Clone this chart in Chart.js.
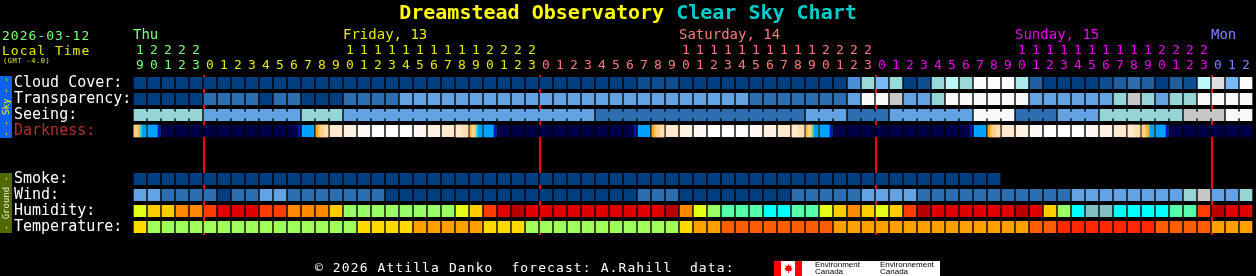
<!DOCTYPE html>
<html>
<head>
<meta charset="utf-8">
<title>Dreamstead Observatory Clear Sky Chart</title>
<script src="https://cdn.jsdelivr.net/npm/chart.js@4.4.1/dist/chart.umd.min.js"></script>
<style>
  html, body { margin: 0; padding: 0; background: #000; }
  #wrap { position: relative; width: 1256px; height: 276px; overflow: hidden;
          font-family: "DejaVu Sans Mono", monospace; }
  #chart-box { position: absolute; left: 0; top: 0; width: 1256px; height: 276px; }
  .txt { position: absolute; white-space: pre; }
  #title { left: 0; top: 0; width: 1256px; text-align: center; font-weight: bold;
           font-size: 20px; line-height: 24px; color: #ffff00; }
  #title span { color: #00cccc; }
  .side { position: absolute; left: 0; width: 12px; display: flex;
          align-items: center; justify-content: center; }
  .side div { writing-mode: vertical-rl; transform: rotate(180deg);
              font-size: 9px; line-height: 12px; white-space: pre; }
  #logo { position: absolute; left: 774px; top: 261px; width: 166px; height: 15px; background: #fff; }
  #logo .red { position: absolute; top: 0; width: 7px; height: 15px; background: #ff0000; }
  #logo .leaf { position: absolute; left: 10px; top: 3px; width: 9px; height: 9px; background: #ff0000;
    clip-path: polygon(50% 0, 62% 25%, 85% 15%, 78% 45%, 100% 45%, 80% 65%, 85% 80%, 55% 75%, 55% 100%,
                       45% 100%, 45% 75%, 15% 80%, 20% 65%, 0 45%, 22% 45%, 15% 15%, 38% 25%); }
  #logo .name { position: absolute; top: 0; font-family: "Liberation Sans", sans-serif;
                font-size: 8px; line-height: 7px; color: #000; white-space: pre; }
</style>
</head>
<body>
<div id="wrap">
  <div id="chart-box"><canvas id="csc-chart"></canvas></div>

  <div class="txt" id="title">Dreamstead Observatory <span>Clear Sky Chart</span></div>
  <div class="txt" style="left:2px; top:28px; font-size:13px; line-height:15px; letter-spacing:1px; color:#80ff80;">2026-03-12</div>
  <div class="txt" style="left:2px; top:43px; font-size:13px; line-height:15px; letter-spacing:1px; color:#e8e800;">Local Time</div>
  <div class="txt" style="left:3px; top:57px; font-size:7px; line-height:8px; letter-spacing:0.5px; color:#e8e800;">(GMT -4.0)</div>

  <div class="side" style="top:76px; height:62px; background:#0f62f0;"><div style="color:#ffff00;">- - Sky - -</div></div>
  <div class="side" style="top:173px; height:60px; background:#506a00;"><div style="color:#f0f0d0;">- Ground -</div></div>

  <div class="txt" style="left:315px; top:260px; font-size:13px; line-height:15px; letter-spacing:1.1px; color:#fff;">© 2026 Attilla Danko  forecast: A.Rahill  data:</div>
  <div id="logo">
    <div class="red" style="left:0;"></div>
    <div class="leaf"></div>
    <div class="red" style="left:21px;"></div>
    <div class="name" style="left:41px;">Environment
Canada</div>
    <div class="name" style="left:106px;">Environnement
Canada</div>
  </div>
</div>

<script>
/* ===============================
   CONFIG
================================= */
const FONT = "'DejaVu Sans Mono', monospace";
const GAP = 1 / 14;             // black gap each side of a cell, in hours
const STEP = (1 - 2 * GAP) / 6; // one 10-minute stripe of a darkness cell

/* ===============================
   AXES / LABELS
================================= */
const ROWS = ["Cloud Cover:", "Transparency:", "Seeing:", "Darkness:", " ", "  ",
              "Smoke:", "Wind:", "Humidity:", "Temperature:"];

const hourLabels = [
  19, 20, 21, 22, 23,
  0, 1, 2, 3, 4, 5, 6, 7, 8, 9, 10, 11, 12, 13, 14, 15, 16, 17, 18, 19, 20, 21, 22, 23,
  0, 1, 2, 3, 4, 5, 6, 7, 8, 9, 10, 11, 12, 13, 14, 15, 16, 17, 18, 19, 20, 21, 22, 23,
  0, 1, 2, 3, 4, 5, 6, 7, 8, 9, 10, 11, 12, 13, 14, 15, 16, 17, 18, 19, 20, 21, 22, 23,
  0, 1, 2
];

const dayNames = ["Thu", "Friday, 13", "Saturday, 14", "Sunday, 15", "Mon"];
const dayNameCols = [0, 15, 39, 63, 77];
const dayStartCols = [0, 5, 29, 53, 77];
const dayColors = ["#80ff80", "#e8e800", "#ff7c7c", "#ee00ee", "#8080ff"];
const midnightCols = [5, 29, 53, 77];

/* ===============================
   SERIES (level codes per hour)
================================= */
const cloudCover = [
  0, 0, 0, 0, 0,
  0, 0, 0, 0, 0, 0, 0, 0, 0, 0, 0, 0, 0, 0, 0, 0, 0, 0, 0, 0, 0, 0, 0, 0,
  0, 0, 0, 0, 0, 0, 0, 1, 1, 1, 0, 0, 0, 0, 0, 0, 0, 0, 0, 0, 0, 0, 4, 7,
  6, 7, 0, 1, 7, 9, 7, 10, 10, 10, 8, 2, 0, 0, 0, 0, 1, 2, 3, 2, 0, 2, 1, 9,
  11, 6, 10
];

const transparency = [
  0, 0, 0, 0, 0,
  1, 1, 1, 1, 0, 1, 1, 0, 0, 0, 1, 1, 1, 1, 2, 2, 2, 2, 2, 2, 2, 2, 2, 2,
  2, 2, 2, 2, 2, 2, 2, 2, 2, 2, 2, 2, 2, 2, 2, 1, 1, 1, 1, 1, 1, 1, 2, 5,
  5, 4, 2, 2, 3, 5, 5, 5, 5, 5, 5, 2, 2, 2, 2, 2, 2, 3, 4, 3, 2, 3, 3, 5,
  5, 5, 5
];

const seeing = [
  3, 3, 3, 3, 3,
  2, 2, 2, 2, 2, 2, 2, 3, 3, 3, 2, 2, 2, 2, 2, 2, 2, 2, 2, 2, 2, 2, 2, 2,
  2, 2, 2, 2, 1, 1, 1, 1, 1, 1, 1, 1, 1, 1, 1, 1, 1, 1, 1, 2, 2, 2, 1, 1,
  1, 2, 2, 2, 2, 2, 2, 5, 5, 5, 1, 1, 1, 2, 2, 2, 3, 3, 3, 3, 3, 3, 4, 4,
  4, 5, 5
];

const darkness = [
  8, 11, 13, 13, 13,
  13, 13, 13, 13, 13, 13, 13, 11, 5, 3, 2, 1, 0, 0, 0, 1, 2, 3, 4, 8, 11, 13, 13, 13,
  13, 13, 13, 13, 13, 13, 13, 11, 5, 3, 2, 1, 0, 0, 0, 1, 2, 3, 4, 9, 11, 13, 13, 13,
  13, 13, 13, 13, 13, 13, 13, 11, 5, 3, 2, 1, 0, 0, 0, 1, 2, 3, 4, 10, 11, 13, 13, 13,
  13, 13, 13
];

// twilight hours, drawn in 10-minute steps
const twilightCols = [0, 1, 11, 13, 23, 24, 25, 35, 37, 47, 48, 49, 59, 61, 71, 72, 73];
const twilightSteps = [
  [5, 5, 6, 8, 11, 11], [11, 11, 11, 11, 11, 12], [13, 13, 13, 13, 13, 12],
  [7, 6, 5, 5, 4, 4], [3, 3, 3, 4, 4, 4], [6, 5, 5, 8, 11, 11],
  [11, 11, 11, 11, 11, 12], [13, 13, 13, 13, 13, 12], [7, 6, 5, 5, 4, 4],
  [3, 3, 3, 4, 4, 4], [6, 5, 5, 9, 11, 11], [11, 11, 11, 11, 11, 12],
  [13, 13, 13, 13, 13, 12], [7, 6, 5, 5, 4, 4], [3, 3, 3, 4, 4, 4],
  [5, 5, 6, 10, 11, 11], [11, 11, 11, 11, 11, 12]
];

const smoke = [
  0, 0, 0, 0, 0,
  0, 0, 0, 0, 0, 0, 0, 0, 0, 0, 0, 0, 0, 0, 0, 0, 0, 0, 0, 0, 0, 0, 0, 0,
  0, 0, 0, 0, 0, 0, 0, 0, 0, 0, 0, 0, 0, 0, 0, 0, 0, 0, 0, 0, 0, 0, 0, 0,
  0, 0, 0, 0, 0, 0, 0, 0, 0
];

const wind = [
  2, 2, 1, 1, 1,
  1, 0, 1, 1, 2, 2, 1, 1, 1, 1, 1, 1, 1, 0, 0, 0, 0, 0, 0, 0, 0, 0, 0, 0,
  0, 0, 0, 0, 0, 0, 0, 1, 1, 1, 0, 0, 0, 0, 0, 0, 0, 0, 1, 1, 1, 1, 1, 2,
  2, 2, 2, 1, 1, 1, 1, 1, 1, 1, 1, 1, 1, 1, 2, 2, 2, 2, 2, 2, 2, 2, 3, 4,
  2, 2, 3
];

const humidity = [
  4, 5, 5, 6, 6,
  7, 8, 8, 8, 7, 7, 6, 6, 6, 5, 3, 3, 3, 3, 3, 3, 3, 3, 4, 5, 7, 8, 9, 8,
  8, 8, 8, 8, 8, 8, 8, 8, 8, 9, 6, 4, 3, 2, 2, 2, 1, 1, 2, 2, 4, 5, 6, 5,
  4, 5, 7, 9, 8, 8, 8, 8, 8, 8, 9, 8, 5, 3, 1, 0, 0, 1, 1, 1, 1, 2, 2, 7,
  9, 8, 8
];

const temperature = [
  1, 0, 0, 0, 0,
  0, 0, 0, 0, 0, 0, 0, 0, 0, 0, 0, 1, 1, 1, 1, 2, 2, 2, 2, 2, 1, 1, 1, 0,
  0, 0, 0, 0, 0, 0, 0, 0, 0, 0, 1, 2, 2, 3, 3, 3, 3, 3, 3, 3, 3, 2, 2, 2,
  2, 2, 2, 2, 2, 2, 2, 2, 2, 2, 2, 3, 3, 4, 4, 4, 4, 4, 4, 4, 3, 3, 3, 3,
  2, 2, 2
];

/* ===============================
   PALETTES
================================= */
const cloudColors = ["#003f7f", "#0f4f8f", "#1f5f9f", "#2c6eb0", "#4a8fd8", "#5f9fdf",
                     "#7ab8f4", "#99d9d9", "#aeeaea", "#bef8f8", "#fbfbfb", "#dedede"];
const skyColors = ["#003f7f", "#2c6eb0", "#63a3e3", "#95d5d5", "#c7c7c7", "#f9f9f9"];
const darknessColors = ["#ffffff", "#fff9f2", "#fff2e2", "#ffead0", "#ffdfb2", "#ffd088",
                        "#ffbb48", "#eca31c", "#48dcb4", "#86c878", "#c6b444", "#00a0ff",
                        "#0016c4", "#000046"];
const humidityColors = ["#80c0c0", "#00ffff", "#55ffaa", "#99ff66", "#e6ff1a", "#ffcc00",
                        "#ff8800", "#ff3c00", "#e00000", "#b80000"];
const temperatureColors = ["#a0ff5a", "#ffd900", "#ffa000", "#ff5e00", "#ff2800"];

/* ===============================
   HELPERS
================================= */
function dayOfCol(col) {
  let d = 0;
  dayStartCols.forEach((start, i) => { if (col >= start) d = i; });
  return d;
}

function cellDataset(row, values, palette) {
  return {
    data: values.map((v, i) => ({ x: [i, i + 1], y: ROWS[row] })),
    backgroundColor: values.map(v => palette[v]),
    borderColor: "#000",
    borderWidth: { left: 1, right: 1, top: 0, bottom: 0 },
    borderSkipped: false,
    barThickness: 12,
    order: 2,
  };
}

function twilightDataset() {
  const data = [];
  const colors = [];
  twilightCols.forEach((col, n) => {
    twilightSteps[n].forEach((lvl, k) => {
      const a = col + GAP + k * STEP;
      data.push({ x: [a, a + STEP], y: ROWS[3] });
      colors.push(darknessColors[lvl]);
    });
  });
  return { data, backgroundColor: colors, borderWidth: 0, barThickness: 12, order: 1 };
}

// seeing cells of equal value are joined across the gap
function seeingLinks() {
  const data = [];
  const colors = [];
  for (let i = 0; i < seeing.length - 1; i++) {
    if (seeing[i] !== seeing[i + 1]) continue;
    data.push({ x: [i + 1 - GAP, i + 1 + GAP], y: ROWS[2] });
    colors.push(skyColors[seeing[i]]);
  }
  return { data, backgroundColor: colors, borderWidth: 0, barThickness: 6, order: 1 };
}

/* ===============================
   CHART
================================= */
new Chart(document.getElementById("csc-chart"), {
  type: "bar",
  data: {
    labels: ROWS,
    datasets: [
      cellDataset(0, cloudCover, cloudColors),
      cellDataset(1, transparency, skyColors),
      cellDataset(2, seeing, skyColors),
      cellDataset(3, darkness, darknessColors),
      cellDataset(6, smoke, skyColors),
      cellDataset(7, wind, skyColors),
      cellDataset(8, humidity, humidityColors),
      cellDataset(9, temperature, temperatureColors),
      twilightDataset(),
      seeingLinks(),
    ],
  },
  options: {
    indexAxis: "y",
    responsive: true,
    maintainAspectRatio: false,
    animation: false,
    grouped: false,
    layout: { padding: { left: 14, right: 3, top: 26, bottom: 41 } },
    plugins: { legend: { display: false }, tooltip: { enabled: false } },
    scales: {
      x: { type: "linear", min: 0, max: 80, display: false },
      xDay: {
        type: "linear", position: "top", min: 0, max: 80, weight: 1,
        grid: { display: false, drawTicks: false },
        border: { display: false },
        afterBuildTicks: s => { s.ticks = dayNameCols.map(v => ({ value: v })); },
        afterFit: s => { s.height = 17; },
        ticks: {
          autoSkip: false, maxRotation: 0, minRotation: 0, align: "start", padding: 0,
          font: { family: FONT, size: 14, lineHeight: "15px" },
          color: ctx => dayColors[ctx.index],
          callback: (v, i) => dayNames[i],
        },
      },
      xHour: {
        type: "linear", position: "top", min: 0, max: 80, weight: 0,
        grid: { display: false, drawTicks: false },
        border: { display: false },
        afterBuildTicks: s => { s.ticks = hourLabels.map((h, i) => ({ value: i + 0.5 })); },
        afterFit: s => { s.height = 32; },
        ticks: {
          autoSkip: false, maxRotation: 0, minRotation: 0, padding: 2,
          font: { family: FONT, size: 13, lineHeight: "15px" },
          color: ctx => dayColors[dayOfCol(ctx.index)],
          callback: (v, i) => {
            const h = hourLabels[i];
            return [h >= 10 ? String(Math.floor(h / 10)) : "", String(h % 10)];
          },
        },
      },
      xNight: {
        type: "linear", position: "bottom", min: 0, max: 80, z: 1,
        grid: { color: "#ff0000", lineWidth: 2, drawTicks: false },
        border: { display: false },
        ticks: { display: false },
        afterBuildTicks: s => { s.ticks = midnightCols.map(c => ({ value: c + GAP })); },
        afterFit: s => { s.height = 0; },
      },
      y: {
        type: "category", labels: ROWS, position: "left", offset: true,
        grid: { display: false, drawTicks: false },
        border: { display: false },
        afterFit: s => { s.width = 119; },
        ticks: {
          autoSkip: false, crossAlign: "far",
          font: { family: FONT, size: 15 },
          color: ctx => (ctx.index === 3 ? "#b03030" : "#ffffff"),
        },
      },
    },
  },
});
</script>
</body>
</html>
